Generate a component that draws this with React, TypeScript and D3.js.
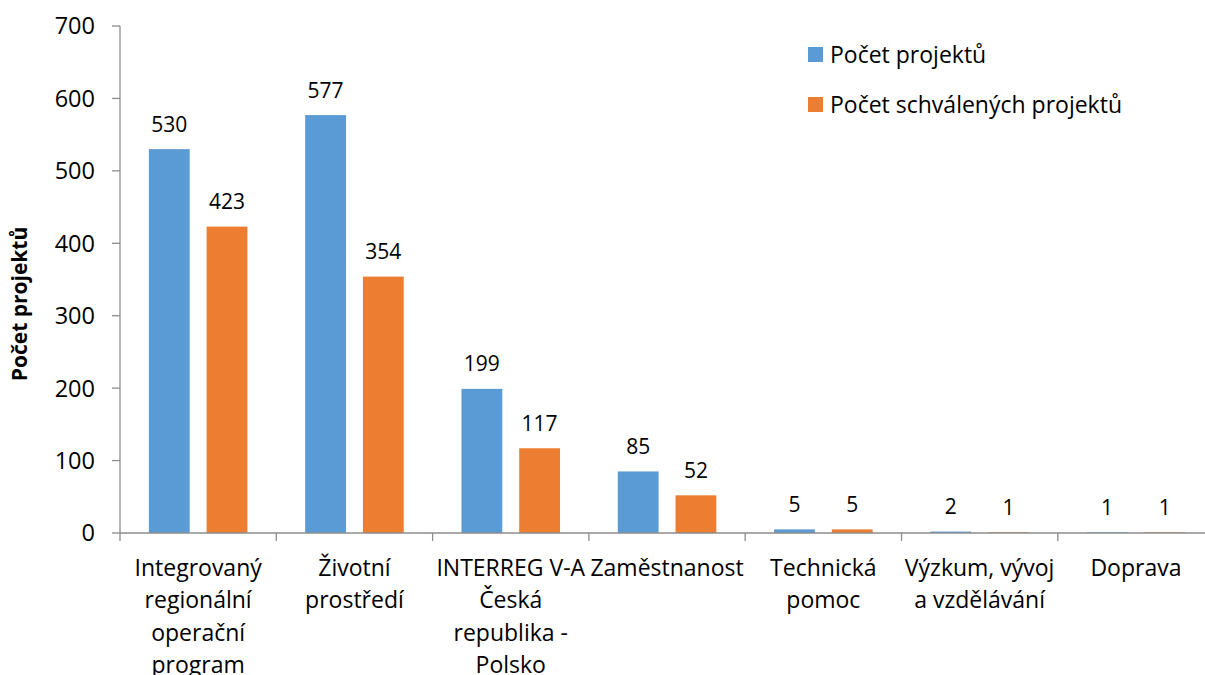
import React from "react";
import * as d3 from "d3";

const categories = [
  "Integrovaný regionální operační program",
  "Životní prostředí",
  "INTERREG V-A Česká republika - Polsko",
  "Zaměstnanost",
  "Technická pomoc",
  "Výzkum, vývoj a vzdělávání",
  "Doprava",
];
const categoryLines = [
  ["Integrovaný", "regionální", "operační", "program"],
  ["Životní", "prostředí"],
  ["INTERREG V-A", "Česká", "republika -", "Polsko"],
  ["Zaměstnanost"],
  ["Technická", "pomoc"],
  ["Výzkum, vývoj", "a vzdělávání"],
  ["Doprava"],
];
const seriesNames = ["Počet projektů", "Počet schválených projektů"];
const totalProjects = [530, 577, 199, 85, 5, 2, 1];
const approvedProjects = [423, 354, 117, 52, 5, 1, 1];
const yTicks = [0, 100, 200, 300, 400, 500, 600, 700];
const yTitle = "Počet projektů";
const colors = ["#5B9BD5", "#ED7D31"];

const W = 1205;
const H = 675;
const FONT = "'Open Sans', 'Noto Sans', sans-serif";
const AXIS = "#8c8c8c";

export default function App() {
  const left = 120;
  const catW = 156.3;
  const x = d3
    .scaleBand<string>()
    .domain(categories)
    .range([left, left + catW * categories.length])
    .padding(0);
  const inner = d3
    .scaleBand<number>()
    .domain([0, 1])
    .range([0, x.bandwidth()])
    .paddingInner(0.293)
    .paddingOuter(0.5);
  const y = d3.scaleLinear().domain([0, 700]).range([533, 26]);
  const series = [totalProjects, approvedProjects];
  const x0 = x.range()[0];
  const x1 = x.range()[1];

  return (
    <svg
      width={W}
      height={H}
      style={{ position: "absolute", left: 0, top: 0, background: "#fff" }}
      fontFamily={FONT}
    >
      {/* bars */}
      {series.map((vals, si) =>
        vals.map((v, ci) => (
          <rect
            key={`b-${si}-${ci}`}
            x={(x(categories[ci]) as number) + (inner(si) as number)}
            y={y(v)}
            width={inner.bandwidth()}
            height={y(0) - y(v)}
            fill={colors[si]}
          />
        ))
      )}
      {/* data labels */}
      {series.map((vals, si) =>
        vals.map((v, ci) => (
          <text
            key={`l-${si}-${ci}`}
            x={(x(categories[ci]) as number) + (inner(si) as number) + inner.bandwidth() / 2}
            y={y(v) - 17.5}
            textAnchor="middle"
            fontSize={21}
            fill="#000"
          >
            {v}
          </text>
        ))
      )}
      {/* y axis */}
      <line x1={left} x2={left} y1={y(700)} y2={y(0)} stroke={AXIS} strokeWidth={1.3} />
      {yTicks.map((t) => (
        <g key={`yt-${t}`}>
          <line x1={left - 8} x2={left} y1={y(t)} y2={y(t)} stroke={AXIS} strokeWidth={1.3} />
          <text x={95} y={y(t)} dy="0.36em" textAnchor="end" fontSize={23.5} fill="#000">
            {t}
          </text>
        </g>
      ))}
      {/* x axis */}
      <line x1={x0} x2={x1} y1={y(0)} y2={y(0)} stroke={AXIS} strokeWidth={1.3} />
      {categories.map((c, i) => (
        <line
          key={`xt-${i}`}
          x1={x(c) as number}
          x2={x(c) as number}
          y1={y(0)}
          y2={y(0) + 8}
          stroke={AXIS}
          strokeWidth={1.3}
        />
      ))}
      {categories.map((c, i) => (
        <text
          key={`xl-${i}`}
          x={(x(c) as number) + x.bandwidth() / 2}
          y={576}
          textAnchor="middle"
          fontSize={23}
          fill="#000"
        >
          {categoryLines[i].map((ln, li) => (
            <tspan key={li} x={(x(c) as number) + x.bandwidth() / 2} dy={li === 0 ? 0 : 32.3}>
              {ln}
            </tspan>
          ))}
        </text>
      ))}
      {/* y title */}
      <text
        transform="translate(27,304) rotate(-90)"
        textAnchor="middle"
        fontSize={21}
        fontWeight="bold"
        fill="#000"
      >
        {yTitle}
      </text>
      {/* legend */}
      {seriesNames.map((s, i) => (
        <g key={`lg-${i}`}>
          <rect x={808} y={47 + i * 50} width={15} height={15} fill={colors[i]} />
          <text x={830} y={62.5 + i * 50} fontSize={23} fill="#000">
            {s}
          </text>
        </g>
      ))}
    </svg>
  );
}
